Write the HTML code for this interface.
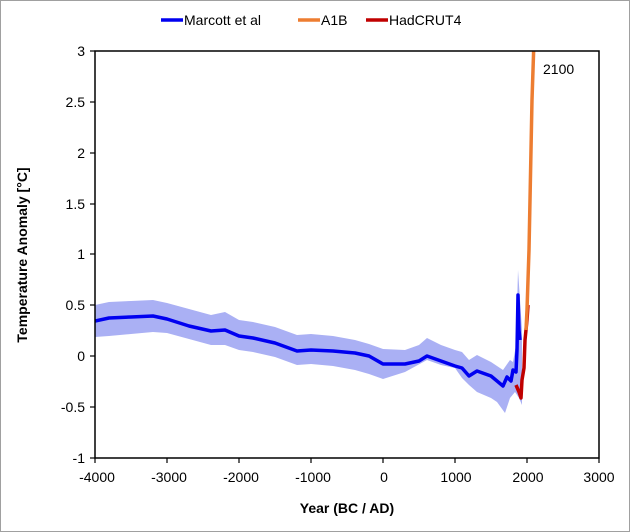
<!DOCTYPE html>
<html><head><style>
body{margin:0;background:#fff;}
svg{display:block;font-family:"Liberation Sans",Arial,sans-serif;}
</style></head><body>
<svg width="630" height="532" viewBox="0 0 630 532">
<rect x="0.5" y="0.5" width="629" height="531" fill="#fff" stroke="#a0a0a0"/>
<defs><clipPath id="c"><rect x="95" y="51" width="504" height="407"/></clipPath></defs>
<g clip-path="url(#c)">
<path fill="#aab0f4" d="
M95,305 L109,302 L131,301 L153,300 L167,303 L189,309 L211,315 L225,312 L239,320 L253,322 L275,327 L297,335 L311,334 L333,336 L355,340 L369,344 L383,349 L405,350 L419,345 L427,338 L441,345 L455,350 L462,352 L469,360 L477,355 L491,362 L503,370 L510,360 L513,362 L516,345 L518,270 L520,300 L522,330
L522,405 L519,398 L515,392 L510,398 L505,413 L497,402 L491,398 L477,392 L469,385 L462,378 L455,368 L441,365 L427,360 L405,372 L383,379 L369,374 L355,370 L333,366 L311,364 L297,365 L275,357 L253,352 L239,350 L225,345 L211,345 L189,339 L167,333 L153,332 L131,334 L109,336 L95,337 Z"/>
<polyline fill="none" stroke="#0000f0" stroke-width="3.5" stroke-linejoin="round" points="95,321 109,318 131,317 153,316 167,319 189,326 211,331 225,330 239,336 253,338 275,343 297,351 311,350 333,351 355,353 369,356 383,364 405,364 419,361 427,356 441,361 455,366 462,368 469,376 477,371 491,376 503,386 507,377 511,381 513,370 516,372 517,350 518,295 519,330 520,340"/>
<polyline fill="none" stroke="#c00000" stroke-width="3.5" stroke-linejoin="round" points="516,385 519,392 521,398 522,380 524,368 525,340 527,320 528,305"/>
<polyline fill="none" stroke="#ed7d31" stroke-width="3.5" points="526,330 527,310 528,280 529,250 530,200 531,150 532,100 533,70 534,40"/>
</g>
<rect x="95" y="51" width="504" height="407" fill="none" stroke="#000" stroke-width="1.5"/>
<g stroke="#000" stroke-width="1.2">
<line x1="90" y1="51" x2="95" y2="51"/><line x1="90" y1="102" x2="95" y2="102"/><line x1="90" y1="153" x2="95" y2="153"/><line x1="90" y1="204" x2="95" y2="204"/><line x1="90" y1="254" x2="95" y2="254"/><line x1="90" y1="305" x2="95" y2="305"/><line x1="90" y1="356" x2="95" y2="356"/><line x1="90" y1="407" x2="95" y2="407"/><line x1="90" y1="458" x2="95" y2="458"/>
<line x1="95" y1="458" x2="95" y2="463"/><line x1="167" y1="458" x2="167" y2="463"/><line x1="239" y1="458" x2="239" y2="463"/><line x1="311" y1="458" x2="311" y2="463"/><line x1="383" y1="458" x2="383" y2="463"/><line x1="455" y1="458" x2="455" y2="463"/><line x1="527" y1="458" x2="527" y2="463"/><line x1="599" y1="458" x2="599" y2="463"/>
</g>
<g font-size="14" fill="#000" text-anchor="end">
<text x="85" y="56">3</text><text x="85" y="107">2.5</text><text x="85" y="158">2</text><text x="85" y="209">1.5</text><text x="85" y="259">1</text><text x="85" y="310">0.5</text><text x="85" y="361">0</text><text x="85" y="412">-0.5</text><text x="85" y="463">-1</text>
</g>
<g font-size="14" fill="#000" text-anchor="middle">
<text x="97" y="482">-4000</text><text x="169" y="482">-3000</text><text x="241" y="482">-2000</text><text x="313" y="482">-1000</text><text x="384" y="482">0</text><text x="456" y="482">1000</text><text x="528" y="482">2000</text><text x="599" y="482">3000</text>
</g>
<text x="347" y="513" font-size="14" font-weight="bold" text-anchor="middle">Year (BC / AD)</text>
<text transform="translate(27,255) rotate(-90)" font-size="14" font-weight="bold" text-anchor="middle">Temperature Anomaly [°C]</text>
<text x="543" y="74" font-size="14">2100</text>
<g font-size="14">
<line x1="161" y1="20" x2="183" y2="20" stroke="#0000f0" stroke-width="3.5"/><text x="184" y="25">Marcott et al</text>
<line x1="298" y1="20" x2="320" y2="20" stroke="#ed7d31" stroke-width="3.5"/><text x="321" y="25">A1B</text>
<line x1="366" y1="20" x2="388" y2="20" stroke="#c00000" stroke-width="3.5"/><text x="389" y="25">HadCRUT4</text>
</g>
</svg>
</body></html>
